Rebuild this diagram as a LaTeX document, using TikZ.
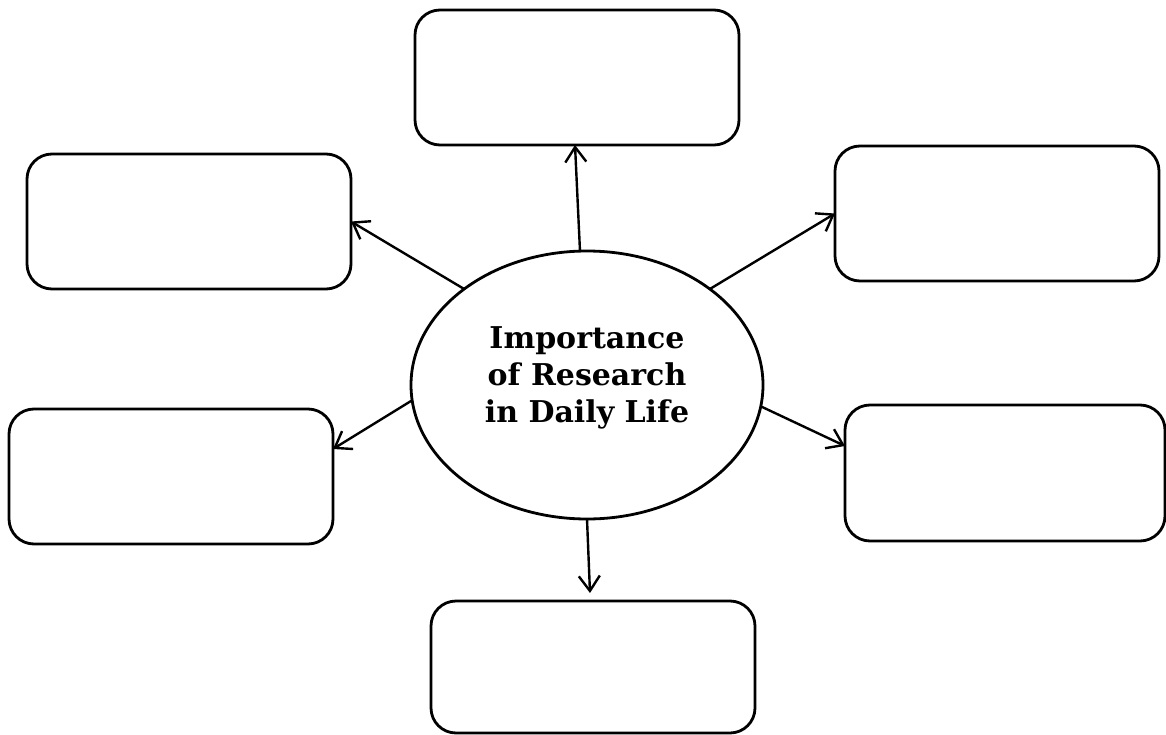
\documentclass[tikz,border=0pt]{standalone}
\usepackage{fontspec}
\setmainfont{DejaVu Serif}
\usetikzlibrary{arrows.meta,shapes.geometric}
\begin{document}
\begin{tikzpicture}[x=1pt,y=-1pt,
  box/.style={draw, line width=2.8pt, rounded corners=25pt, minimum width=324pt, minimum height=135pt, inner sep=0pt, outer sep=0pt},
  hub/.style={draw, ellipse, line width=2.8pt, minimum width=352pt, minimum height=268pt, inner sep=0pt, outer sep=0pt},
  conn/.style={line width=2.4pt, -{Straight Barb[length=15pt,width=21pt,line width=2.4pt]}},
  hubtext/.style={align=center, font=\bfseries\fontsize{30}{37}\selectfont, inner sep=0pt}]
\useasboundingbox (0,0) rectangle (1166,735);
\node[box] (t)  at (577,77.5) {};
\node[box] (ul) at (189,221.5) {};
\node[box] (ur) at (997,213.5) {};
\node[box] (ll) at (171,476.5) {};
\node[box, minimum width=320pt, minimum height=136pt] (lr) at (1005,473) {};
\node[box, minimum height=132pt] (b) at (593,667) {};
\node[hub] (e) at (587,385) {};
\node[hubtext] (lbl) at ([yshift=7pt]e.center) {Importance\\of Research\\in Daily Life};
\draw[conn] (e.93) -- ([xshift=-2pt]t.south);
\draw[conn] (e.142) -- (ul.east);
\draw[conn] (e.38) -- (ur.west);
\draw[conn] (e.185) -- ([yshift=27.5pt]ll.east);
\draw[conn] (e.353) -- ([yshift=27pt]lr.west);
\draw[conn] (e.270) -- ([xshift=-3pt,yshift=8pt]b.north);
\end{tikzpicture}
\end{document}
